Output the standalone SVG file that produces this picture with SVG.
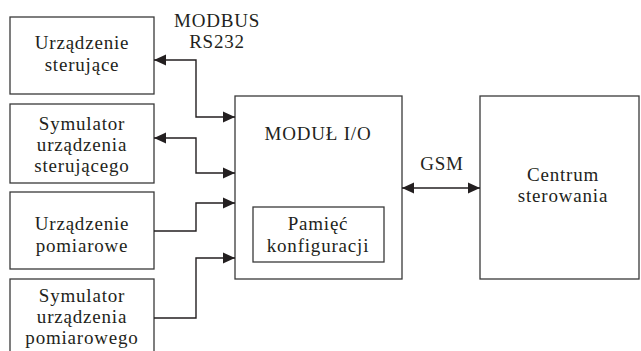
<svg xmlns="http://www.w3.org/2000/svg" width="641" height="351" viewBox="0 0 641 351">
<defs>
<marker id="ah" viewBox="0 0 12 12" refX="12" refY="6" markerWidth="12" markerHeight="12" markerUnits="userSpaceOnUse" orient="auto-start-reverse">
<path d="M0,0.5 L12,6 L0,11.5 Z" fill="#231f20"/>
</marker>
<style>
.box{fill:#fff;stroke:#3a3a3a;stroke-width:1.3}
.t{font-family:"Liberation Serif","Times New Roman",serif;font-size:19px;letter-spacing:0.8px;fill:#231f20;text-anchor:middle}
.c{fill:none;stroke:#231f20;stroke-width:1.4}
</style>
</defs>
<rect width="641" height="351" fill="#fff"/>
<g id="n1"><rect class="box" x="10" y="17" width="144" height="77"/><text class="t" x="82" y="49">Urządzenie</text><text class="t" x="82" y="71">sterujące</text></g>
<g id="n2"><rect class="box" x="10" y="104" width="144" height="79"/><text class="t" x="82" y="130">Symulator</text><text class="t" x="82" y="151">urządzenia</text><text class="t" x="82" y="172">sterującego</text></g>
<g id="n3"><rect class="box" x="10" y="192" width="144" height="77"/><text class="t" x="82" y="230">Urządzenie</text><text class="t" x="82" y="252">pomiarowe</text></g>
<g id="n4"><rect class="box" x="10" y="279" width="144" height="90"/><text class="t" x="82" y="302">Symulator</text><text class="t" x="82" y="323">urządzenia</text><text class="t" x="82" y="344">pomiarowego</text></g>
<g id="modul"><rect class="box" x="235" y="96" width="167" height="183"/><text class="t" x="318" y="140">MODUŁ I/O</text></g>
<g id="pamiec"><rect class="box" x="253" y="207" width="131" height="55"/><text class="t" x="318" y="230">Pamięć</text><text class="t" x="318" y="252">konfiguracji</text></g>
<g id="centrum"><rect class="box" x="480" y="96" width="159" height="183"/><text class="t" x="563" y="181">Centrum</text><text class="t" x="563" y="202">sterowania</text></g>
<g id="labels"><text class="t" x="217" y="27">MODBUS</text><text class="t" x="217" y="48">RS232</text><text class="t" x="442" y="170">GSM</text></g>
<g id="connectors">
<path class="c" d="M154,60 H196 V117 H235" marker-start="url(#ah)" marker-end="url(#ah)"/>
<path class="c" d="M154,138 H196 V173 H235" marker-start="url(#ah)" marker-end="url(#ah)"/>
<path class="c" d="M154,231 H196 V203 H235" marker-end="url(#ah)"/>
<path class="c" d="M154,318 H196 V258 H235" marker-end="url(#ah)"/>
<path class="c" d="M402,188 H480" marker-start="url(#ah)" marker-end="url(#ah)"/>
</g>
</svg>
